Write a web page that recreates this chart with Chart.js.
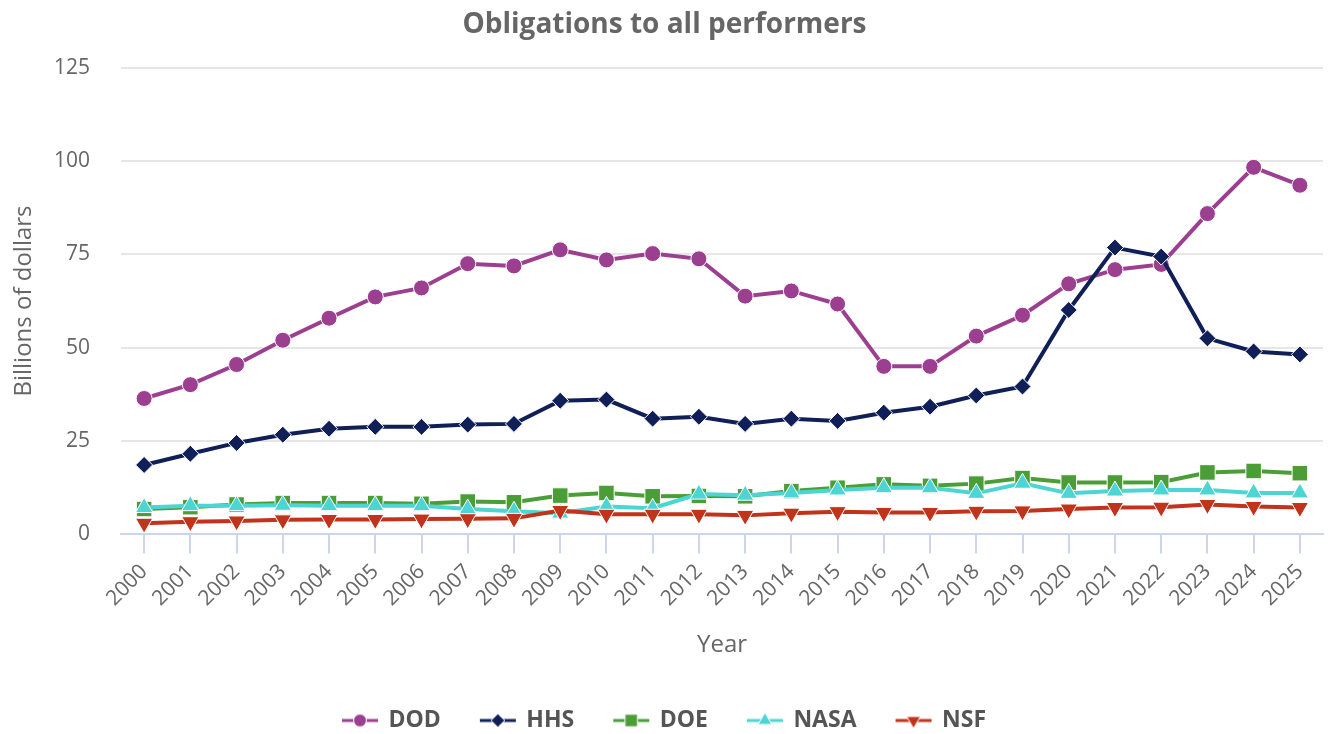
<!DOCTYPE html>
<html>
<head>
<meta charset="utf-8">
<script src="https://cdn.jsdelivr.net/npm/chart.js@4/dist/chart.umd.min.js"></script>
<style>
  body { margin: 0; background: #fff; }
  #wrap { width: 1330px; height: 734px; position: relative; }
</style>
</head>
<body>
<div id="wrap"><canvas id="chart"></canvas></div>
<script>
const years = ['2000','2001','2002','2003','2004','2005','2006','2007','2008','2009','2010','2011','2012',
  '2013','2014','2015','2016','2017','2018','2019','2020','2021','2022','2023','2024','2025'];
const dod = [36.4, 40.1, 45.5, 52.0, 57.9, 63.6, 66.0, 72.5, 71.9, 76.2, 73.5, 75.2, 73.8,
  63.8, 65.2, 61.7, 45.0, 45.0, 53.1, 58.7, 67.1, 70.9, 72.3, 85.9, 98.3, 93.5];
const hhs = [18.6, 21.6, 24.5, 26.7, 28.3, 28.8, 28.8, 29.4, 29.6, 35.8, 36.1, 31.0, 31.5,
  29.6, 31.0, 30.4, 32.6, 34.2, 37.2, 39.6, 60.1, 76.8, 74.4, 52.5, 49.0, 48.2];
const doe = [6.8, 7.3, 8.0, 8.4, 8.4, 8.4, 8.2, 8.8, 8.6, 10.4, 11.1, 10.2, 10.3,
  10.2, 11.6, 12.5, 13.4, 13.0, 13.6, 15.1, 13.9, 13.9, 14.0, 16.6, 17.0, 16.4];
const nasa = [7.2, 7.7, 7.7, 7.8, 7.7, 7.7, 7.7, 6.8, 6.2, 5.7, 7.5, 7.0, 10.8,
  10.5, 11.1, 11.9, 12.5, 12.5, 11.0, 13.7, 11.0, 11.6, 11.9, 11.9, 11.1, 11.1];
const nsf = [3.0, 3.4, 3.6, 3.9, 4.0, 4.0, 4.1, 4.2, 4.3, 6.4, 5.4, 5.4, 5.4,
  5.1, 5.7, 6.1, 5.9, 5.9, 6.2, 6.3, 6.8, 7.2, 7.3, 8.0, 7.5, 7.2];
const yTicks = [0, 25, 50, 75, 100, 125];

const FONT = "'Open Sans', sans-serif";

// legend symbol: short line with the marker on it
function legendSymbol(color, style, radius, rot) {
  const c = document.createElement('canvas');
  c.width = 38; c.height = 20;
  const ctx = c.getContext('2d');
  ctx.strokeStyle = color;
  ctx.lineWidth = 3;
  ctx.beginPath(); ctx.moveTo(1, 10); ctx.lineTo(37, 10); ctx.stroke();
  ctx.fillStyle = color;
  ctx.strokeStyle = '#fff';
  ctx.lineWidth = 1;
  Chart.helpers.drawPoint(ctx, { pointStyle: style, rotation: rot || 0, radius: radius * 0.8, borderWidth: 1 }, 19, 10);
  return c;
}

function series(label, data, color, style, radius, order, rot) {
  return {
    label, data, order,
    borderColor: color,
    backgroundColor: color,
    borderWidth: 4,
    pointStyle: style,
    pointRotation: rot || 0,
    pointRadius: radius,
    pointHoverRadius: radius,
    pointBackgroundColor: color,
    pointBorderColor: '#fff',
    pointBorderWidth: 1,
    legendStyle: legendSymbol(color, style, radius, rot),
    tension: 0
  };
}

const datasets = [
  series('DOD', dod, '#9c3f91', 'circle', 8, 5),
  series('HHS', hhs, '#101f57', 'rectRot', 8.5, 4),
  series('DOE', doe, '#4b9e37', 'rect', 11, 3),
  series('NASA', nasa, '#4dd5d3', 'triangle', 10, 2),
  series('NSF', nsf, '#c1331a', 'triangle', 10, 1, 180)
];

new Chart(document.getElementById('chart'), {
  type: 'line',
  data: { labels: years, datasets },
  options: {
    responsive: true,
    maintainAspectRatio: false,
    animation: false,
    layout: { autoPadding: false, padding: { left: 6, right: 7, top: 2, bottom: -8 } },
    plugins: {
      title: {
        display: true,
        text: 'Obligations to all performers',
        color: '#666666',
        font: { family: FONT, size: 28, weight: 'bold' },
        padding: { top: 6, bottom: 26 }
      },
      legend: {
        position: 'bottom',
        labels: {
          usePointStyle: true,
          pointStyleWidth: 34,
          color: '#555555',
          font: { family: FONT, size: 23, weight: 'bold' },
          padding: 40,
          generateLabels(chart) {
            return chart.data.datasets.map((ds, i) => ({
              text: ds.label,
              pointStyle: ds.legendStyle,
              fillStyle: ds.borderColor,
              strokeStyle: ds.borderColor,
              fontColor: '#555555',
              lineWidth: 0,
              hidden: !chart.isDatasetVisible(i),
              datasetIndex: i
            }));
          }
        }
      },
      tooltip: { enabled: false }
    },
    scales: {
      x: {
        offset: true,
        // let the rotated labels hang past the plot edges
        afterFit(axis) { axis.paddingLeft = 0; axis.paddingRight = 0; },
        grid: {
          offset: false,
          drawOnChartArea: false,
          drawTicks: true,
          tickLength: 19,
          color: '#ccd6eb',
          lineWidth: 2
        },
        border: { display: true, color: '#ccd6eb', width: 2 },
        ticks: {
          color: '#666666',
          font: { family: FONT, size: 21 },
          minRotation: 45,
          maxRotation: 45,
          autoSkip: false,
          padding: 6
        },
        title: {
          display: true,
          text: 'Year',
          color: '#666666',
          font: { family: FONT, size: 24 },
          padding: { top: 14, bottom: 9 }
        }
      },
      y: {
        min: 0,
        max: 125,
        afterBuildTicks(axis) { axis.ticks = yTicks.map(v => ({ value: v })); },
        afterFit(axis) { axis.width = 115; },
        grid: { color: '#e6e6e6', lineWidth: 2, drawTicks: false },
        border: { display: false },
        ticks: {
          color: '#666666',
          font: { family: FONT, size: 21 },
          padding: 31
        },
        title: {
          display: true,
          text: 'Billions of dollars',
          color: '#666666',
          font: { family: FONT, size: 24 },
          padding: { top: 4, bottom: 15 }
        }
      }
    }
  }
});
</script>
</body>
</html>
